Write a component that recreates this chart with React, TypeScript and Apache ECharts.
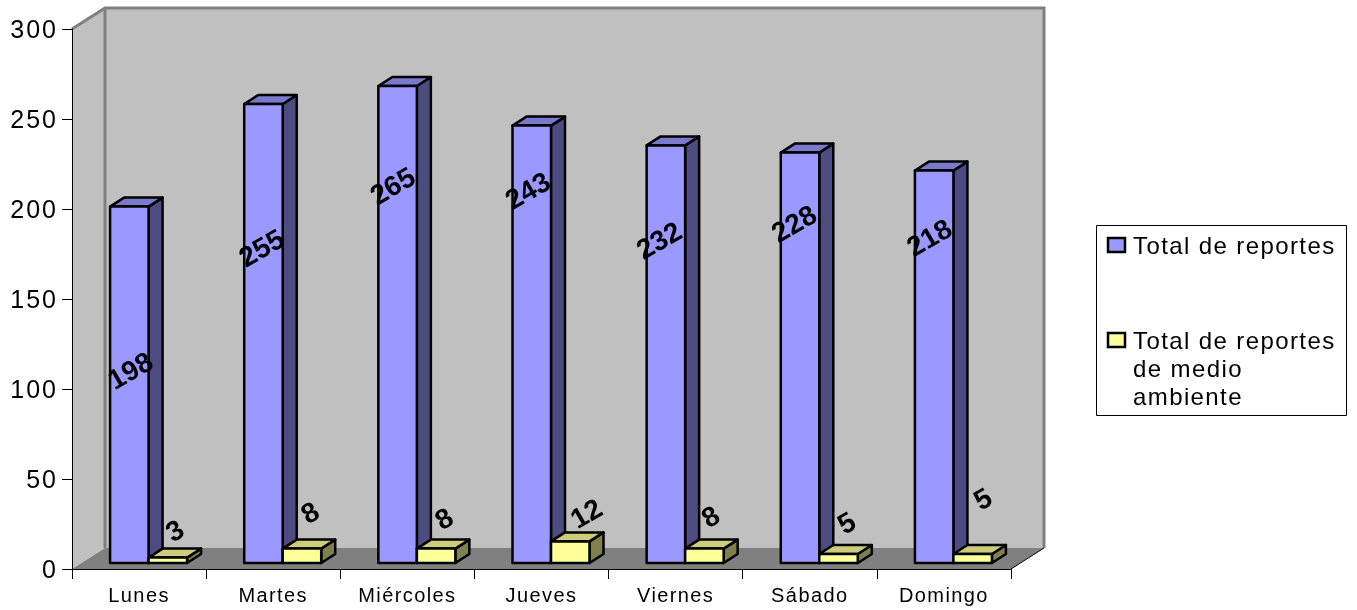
import React, { useEffect, useRef } from "react";
import * as echarts from "echarts";

const categories = ["Lunes", "Martes", "Miércoles", "Jueves", "Viernes", "Sábado", "Domingo"];
const totalReportes = [198, 255, 265, 243, 232, 228, 218];
const totalMedioAmbiente = [3, 8, 8, 12, 8, 5, 5];
const yTicks = { min: 0, max: 300, interval: 50 };
const seriesNames = ["Total de reportes", "Total de reportes\nde medio\nambiente"];

// hand placement of the rotated value labels, relative to the top of their bar
const blueLabelShift = [[1, 164], [-2, 144], [-5, 100], [-4, 65], [-7, 95], [-6, 71], [-5, 67]];
const yellowLabelShift = [[7, -27], [8, -36], [8, -30], [16, -28], [6, -32], [8, -31], [10, -55]];

const WALL_DX = 33;
const WALL_DY = 21;
const BAR_OFF_X = 9.5;
const BAR_OFF_Y = 6;
const BAR_W = 38.5;
const DEPTH_X = 14;
const DEPTH_Y = 9;
const FONT = '"Liberation Sans", Arial, sans-serif';

function barRenderer(
  front: string, top: string, side: string,
  slot: number, shifts: number[][],
) {
  return (params: any, api: any) => {
    const i = api.value(0);
    const v = api.value(1);
    const t = api.coord([i, v]);
    const b = api.coord([i, 0]);
    const x0 = t[0] + BAR_OFF_X + slot * BAR_W;
    const x1 = x0 + BAR_W;
    const yt = t[1] - BAR_OFF_Y;
    const yb = b[1] - BAR_OFF_Y;
    const stroke = { stroke: "#000", lineWidth: 2.5, lineJoin: "round" };
    const [sx, sy] = shifts[params.dataIndex];
    return {
      type: "group",
      children: [
        { type: "polygon", shape: { points: [[x1, yt], [x1 + DEPTH_X, yt - DEPTH_Y], [x1 + DEPTH_X, yb - DEPTH_Y], [x1, yb]] }, style: { fill: side, ...stroke } },
        { type: "polygon", shape: { points: [[x0, yt], [x0 + DEPTH_X, yt - DEPTH_Y], [x1 + DEPTH_X, yt - DEPTH_Y], [x1, yt]] }, style: { fill: top, ...stroke } },
        { type: "rect", shape: { x: x0, y: yt, width: BAR_W, height: yb - yt }, style: { fill: front, ...stroke } },
        {
          type: "text", x: (x0 + x1) / 2 + sx, y: yt + sy, rotation: Math.PI / 6, z2: 50,
          style: { text: String(v), fill: "#000", fontFamily: FONT, fontWeight: "bold", fontSize: 28, align: "center", verticalAlign: "middle" },
        },
      ],
    };
  };
}

function wallRenderer(params: any) {
  const { x, y, width, height } = params.coordSys;
  const r = x + width;
  const b = y + height;
  const dx = WALL_DX;
  const dy = WALL_DY;
  const grey = { stroke: "#808080", lineWidth: 3 };
  return {
    type: "group",
    children: [
      { type: "polygon", shape: { points: [[x + dx, y - dy], [r + dx, y - dy], [r + dx, b - dy], [x + dx, b - dy]] }, style: { fill: "#c0c0c0" } },
      { type: "polygon", shape: { points: [[x, y], [x + dx, y - dy], [x + dx, b - dy], [x, b]] }, style: { fill: "#c0c0c0" } },
      { type: "polygon", shape: { points: [[x, b], [x + dx, b - dy], [r + dx, b - dy], [r, b]] }, style: { fill: "#808080" } },
      { type: "polyline", shape: { points: [[x, y], [x + dx, y - dy], [r + dx, y - dy], [r + dx, b - dy]] }, style: { fill: "none", ...grey } },
      { type: "line", shape: { x1: x + dx, y1: y - dy, x2: x + dx, y2: b - dy }, style: grey },
      { type: "line", shape: { x1: r, y1: b, x2: r + dx, y2: b - dy }, style: { stroke: "#000", lineWidth: 1 } },
    ],
  };
}

const legendText = {
  fill: "#000", fontFamily: FONT, fontSize: 24, lineHeight: 28, align: "left", verticalAlign: "top",
};

const css = `
#chart3d { letter-spacing: 1.4px; }
#chart3d text[style*="28px"] { letter-spacing: 0; }
#chart3d text[style*="25px"] { letter-spacing: 2px; }
`;

export default function App() {
  const ref = useRef<HTMLDivElement>(null);
  useEffect(() => {
    const chart = echarts.init(ref.current!, undefined, { renderer: "svg" });
    chart.setOption({
      animation: false,
      grid: { left: 72, top: 29, width: 939, height: 540, containLabel: false },
      xAxis: {
        type: "category", data: categories, z: 5,
        axisLine: { lineStyle: { color: "#000", width: 1 } },
        axisTick: { show: true, length: 10, alignWithLabel: false, lineStyle: { color: "#000" } },
        axisLabel: { color: "#000", fontFamily: FONT, fontSize: 20, margin: 16, interval: 0 },
        splitLine: { show: false },
      },
      yAxis: {
        type: "value", ...yTicks, z: 5,
        axisLine: { show: true, lineStyle: { color: "#000", width: 1 } },
        axisTick: { show: true, length: 10, lineStyle: { color: "#000" } },
        axisLabel: { color: "#000", fontFamily: FONT, fontSize: 25, margin: 14 },
        splitLine: { show: false },
      },
      series: [
        { type: "custom", name: "wall", coordinateSystem: "cartesian2d", z: 0, silent: true, clip: false, renderItem: wallRenderer, data: [[0, 0]] },
        {
          type: "custom", name: seriesNames[0], coordinateSystem: "cartesian2d", z: 2, clip: false,
          renderItem: barRenderer("#9999ff", "#7a7acc", "#4c4c80", -1, blueLabelShift),
          data: totalReportes.map((v, i) => [i, v]),
        },
        {
          type: "custom", name: seriesNames[1], coordinateSystem: "cartesian2d", z: 2, clip: false,
          renderItem: barRenderer("#ffff99", "#cccc7a", "#80804c", 0, yellowLabelShift),
          data: totalMedioAmbiente.map((v, i) => [i, v]),
        },
      ],
      graphic: [
        { type: "rect", shape: { x: 1096.5, y: 225.5, width: 250, height: 190 }, style: { fill: "#fff", stroke: "#000", lineWidth: 1 } },
        { type: "rect", shape: { x: 1108, y: 238, width: 17, height: 14 }, style: { fill: "#9999ff", stroke: "#000", lineWidth: 2.5 } },
        { type: "rect", shape: { x: 1108, y: 333, width: 17, height: 14 }, style: { fill: "#ffff99", stroke: "#000", lineWidth: 2.5 } },
        { type: "text", x: 1133, y: 231, style: { text: seriesNames[0], ...legendText } },
        { type: "text", x: 1133, y: 326, style: { text: seriesNames[1], ...legendText } },
      ],
    });
    return () => chart.dispose();
  }, []);
  return (
    <>
      <style>{css}</style>
      <div
        id="chart3d"
        ref={ref}
        style={{ position: "fixed", left: 0, top: 0, width: 1357, height: 610 }}
      />
    </>
  );
}
